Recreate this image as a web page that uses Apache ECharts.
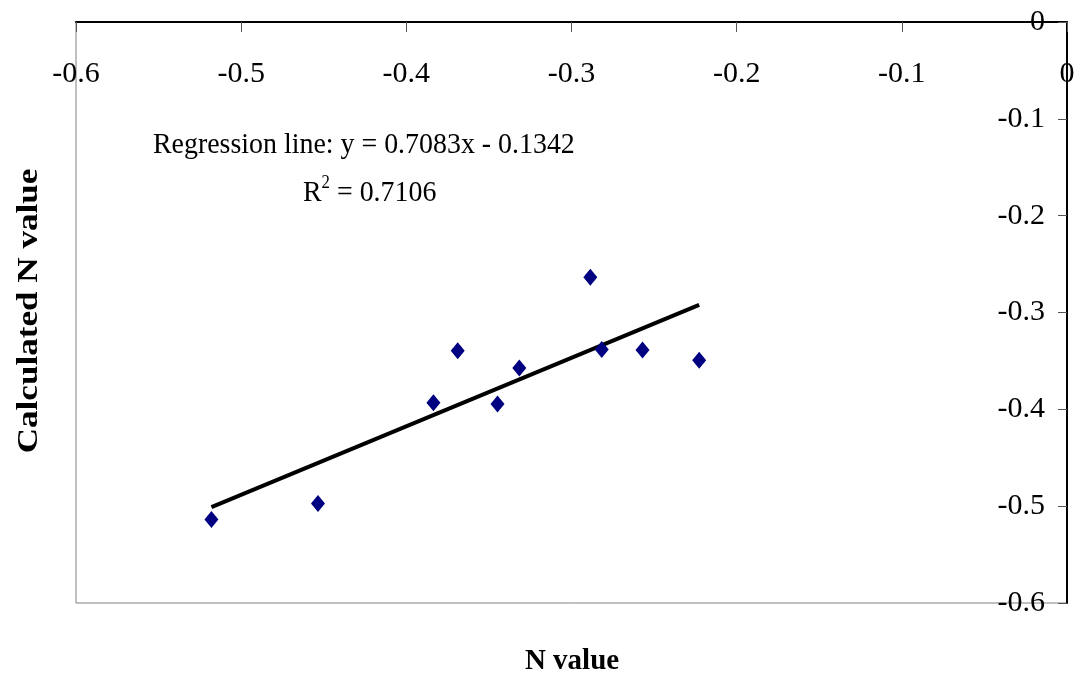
<!DOCTYPE html>
<html>
<head>
<meta charset="utf-8">
<script src="https://cdn.jsdelivr.net/npm/echarts@6/dist/echarts.min.js"></script>
<style>
  html, body { margin: 0; padding: 0; background: #fff; }
  #chart { width: 1079px; height: 679px; }
</style>
</head>
<body>
<div id="chart"></div>
<script>
// measured N value vs calculated N value
var nValue = [-0.518, -0.4535, -0.3836, -0.3689, -0.3448, -0.3316, -0.2886, -0.2817, -0.257, -0.2227];
var calcValue = [-0.5137, -0.4972, -0.3933, -0.3396, -0.3946, -0.3574, -0.2637, -0.3381, -0.3388, -0.3492];
// regression line end points
var fitLine = [[-0.518, -0.501], [-0.2227, -0.2922]];
var xTicks = [-0.6, -0.5, -0.4, -0.3, -0.2, -0.1, 0];
var yTicks = [0, -0.1, -0.2, -0.3, -0.4, -0.5, -0.6];

var font = '"Liberation Serif", "Times New Roman", serif';

var points = nValue.map(function (x, i) {
  return [x, calcValue[i]];
});

var chart = echarts.init(document.getElementById('chart'));

var option = {
  animation: false,
  backgroundColor: '#fff',
  grid: {
    left: 76,
    right: 12,
    top: 22,
    bottom: 76,
    show: true,
    borderColor: '#808080',
    borderWidth: 1
  },
  xAxis: {
    type: 'value',
    position: 'top',
    min: xTicks[0],
    max: xTicks[xTicks.length - 1],
    interval: 0.1,
    axisLine: { onZero: false, lineStyle: { color: '#000', width: 2 } },
    axisTick: { inside: true, length: 10, lineStyle: { color: '#555' } },
    axisLabel: {
      inside: true,
      margin: 37,
      color: '#000',
      fontFamily: font,
      fontSize: 30,
      formatter: function (v) {
        return String(Math.round(v * 10) / 10);
      }
    },
    splitLine: { show: false }
  },
  yAxis: {
    type: 'value',
    position: 'right',
    min: yTicks[yTicks.length - 1],
    max: yTicks[0],
    interval: 0.1,
    axisLine: { onZero: false, lineStyle: { color: '#000', width: 2 } },
    axisTick: { inside: true, length: 9, lineStyle: { color: '#555' } },
    axisLabel: {
      inside: true,
      margin: 22,
      color: '#000',
      fontFamily: font,
      fontSize: 30,
      formatter: function (v) {
        return String(Math.round(v * 10) / 10);
      }
    },
    splitLine: { show: false }
  },
  series: [
    {
      type: 'line',
      data: fitLine,
      showSymbol: false,
      lineStyle: { color: '#000', width: 4 },
      z: 2
    },
    {
      type: 'scatter',
      data: points,
      symbol: 'diamond',
      symbolSize: [14, 17],
      itemStyle: { color: '#000080', opacity: 1 },
      z: 3
    }
  ],
  graphic: [
    {
      type: 'text',
      x: 153,
      y: 130,
      scaleX: 0.93,
      style: {
        text: 'Regression line: y = 0.7083x - 0.1342',
        font: '30px ' + font,
        fill: '#000'
      }
    },
    {
      type: 'text',
      x: 303,
      y: 174,
      scaleX: 0.93,
      style: {
        text: '{b|R}{s|2}{b| = 0.7106}',
        rich: {
          b: { fontFamily: font, fontSize: 30, fill: '#000', verticalAlign: 'bottom', lineHeight: 34 },
          s: { fontFamily: font, fontSize: 18, fill: '#000', verticalAlign: 'top', lineHeight: 34 }
        }
      }
    },
    {
      type: 'text',
      x: 572,
      y: 662,
      style: {
        text: 'N value',
        font: 'bold 29px ' + font,
        fill: '#000',
        align: 'center',
        verticalAlign: 'middle'
      }
    },
    {
      type: 'text',
      x: 29,
      y: 311,
      rotation: Math.PI / 2,
      scaleX: 1.17,
      style: {
        text: 'Calculated N value',
        font: 'bold 30px ' + font,
        fill: '#000',
        align: 'center',
        verticalAlign: 'middle'
      }
    }
  ]
};

chart.setOption(option);
</script>
</body>
</html>
